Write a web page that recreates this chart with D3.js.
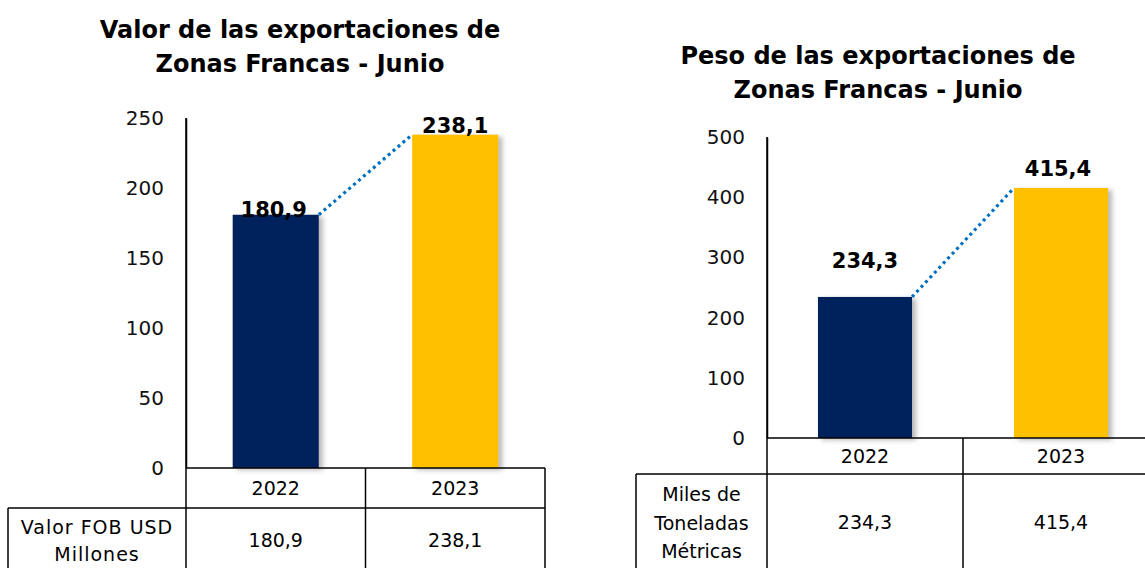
<!DOCTYPE html>
<html>
<head>
<meta charset="utf-8">
<script src="https://cdn.jsdelivr.net/npm/d3@7"></script>
<style>
  body { margin: 0; background: #fff; }
  svg { display: block; font-family: "DejaVu Sans", sans-serif; }
</style>
</head>
<body>
<svg id="chart" width="1145" height="568"></svg>
<script>
// datos
const years = ["2022", "2023"]
const valorFob = [180.9, 238.1]
const pesoTon = [234.3, 415.4]
const barColors = ["#03205c", "#ffc000"]
const valorTicks = [0, 50, 100, 150, 200, 250]
const pesoTicks = [0, 100, 200, 300, 400, 500]

const es = d3.formatLocale({decimal: ",", thousands: ".", grouping: [3], currency: ["", ""]})
const fmt = es.format(".1f")

const svg = d3.select("#chart")

const defs = svg.append("defs")
defs.append("filter").attr("id", "shadow")
    .attr("x", "-10%").attr("y", "-10%").attr("width", "130%").attr("height", "120%")
  .append("feDropShadow")
    .attr("dx", 4).attr("dy", 2).attr("stdDeviation", 2.5)
    .attr("flood-color", "#808080").attr("flood-opacity", 0.55)

function panel(cfg) {
  const g = svg.append("g")

  // título
  g.append("text")
    .attr("x", cfg.titleX).attr("y", cfg.titleY)
    .attr("text-anchor", "middle")
    .style("font-weight", "bold").style("font-size", "24px")
    .selectAll("tspan").data(cfg.title).join("tspan")
      .attr("x", cfg.titleX).attr("dy", (d, i) => i === 0 ? 0 : 34)
      .text(d => d)

  const x = d3.scaleBand().domain(years)
    .range([cfg.axisX, cfg.axisX + cfg.band * years.length])
    .paddingInner(0.52).paddingOuter(0.26)
  const y = d3.scaleLinear().domain([0, d3.max(cfg.ticks)]).range([cfg.zeroY, cfg.topY])

  // eje Y
  const axis = g.append("g")
    .attr("transform", `translate(${cfg.axisX},0)`)
    .call(d3.axisLeft(y).tickValues(cfg.ticks).tickSize(0).tickPadding(22).tickFormat(d3.format("d")))
  axis.select(".domain").attr("stroke", "#000").attr("stroke-width", 1.5)
  axis.selectAll("text")
    .style("font-family", "DejaVu Sans, sans-serif")
    .style("font-size", "20px").attr("fill", "#111")

  // barras
  g.selectAll("rect.bar").data(cfg.values).join("rect")
    .attr("class", "bar")
    .attr("x", (d, i) => x(years[i]))
    .attr("y", d => y(d))
    .attr("width", x.bandwidth())
    .attr("height", d => y(0) - y(d))
    .attr("fill", (d, i) => barColors[i])
    .attr("filter", "url(#shadow)")

  // línea punteada entre barras
  g.append("line")
    .attr("x1", x(years[0]) + x.bandwidth()).attr("y1", y(cfg.values[0]))
    .attr("x2", x(years[1])).attr("y2", y(cfg.values[1]))
    .attr("stroke", "#0070c0").attr("stroke-width", 3.2)
    .attr("stroke-dasharray", "3,3.5")

  // etiquetas de datos
  g.selectAll("text.lbl").data(cfg.values).join("text")
    .attr("class", "lbl")
    .attr("x", (d, i) => x(years[i]) + x.bandwidth() / 2 + cfg.labelDx[i])
    .attr("y", (d, i) => y(d) - cfg.labelDy[i])
    .attr("text-anchor", "middle")
    .style("font-weight", "bold").style("font-size", "21px")
    .text(d => fmt(d))

  // tabla de datos
  const right = cfg.axisX + cfg.band * years.length
  const r1 = cfg.zeroY + cfg.rowH
  const line = (x1, y1, x2, y2) => g.append("line")
    .attr("x1", x1).attr("y1", y1).attr("x2", x2).attr("y2", y2)
    .attr("stroke", "#000").attr("stroke-width", 1.5)
  line(cfg.axisX, cfg.zeroY, right, cfg.zeroY)
  line(cfg.tableLeft, r1, right, r1)
  line(cfg.axisX, cfg.topY, cfg.axisX, 568)
  line(cfg.tableLeft, r1, cfg.tableLeft, 568)
  years.forEach((yr, i) => line(cfg.axisX + cfg.band * (i + 1), cfg.zeroY, cfg.axisX + cfg.band * (i + 1), 568))

  g.selectAll("text.yr").data(years).join("text")
    .attr("class", "yr")
    .attr("x", d => x(d) + x.bandwidth() / 2)
    .attr("y", cfg.zeroY + cfg.rowH / 2 + 7)
    .attr("text-anchor", "middle").style("font-size", "19px")
    .text(d => d)

  g.selectAll("text.val").data(cfg.values).join("text")
    .attr("class", "val")
    .attr("x", (d, i) => x(years[i]) + x.bandwidth() / 2)
    .attr("y", cfg.valY)
    .attr("text-anchor", "middle").style("font-size", "19px")
    .text(d => fmt(d))

  g.append("text")
    .attr("text-anchor", "middle").style("font-size", "19px")
    .style("letter-spacing", cfg.rowSpacing)
    .selectAll("tspan").data(cfg.rowLabel).join("tspan")
      .attr("x", (cfg.tableLeft + cfg.axisX) / 2)
      .attr("y", (d, i) => cfg.rowLabelY + i * cfg.rowLabelGap)
      .text(d => d)
}

panel({
  title: ["Valor de las exportaciones de", "Zonas Francas - Junio"],
  titleX: 300, titleY: 38,
  values: valorFob, ticks: valorTicks,
  axisX: 186, band: 179.5, zeroY: 468, topY: 118,
  rowH: 40, tableLeft: 8, valY: 547,
  rowLabel: ["Valor FOB USD", "Millones"], rowLabelY: 534, rowLabelGap: 27, rowSpacing: "1px",
  labelDx: [-2, 0], labelDy: [-2, 2]
})

panel({
  title: ["Peso de las exportaciones de", "Zonas Francas - Junio"],
  titleX: 878, titleY: 64,
  values: pesoTon, ticks: pesoTicks,
  axisX: 767, band: 196, zeroY: 438, topY: 137,
  rowH: 36, tableLeft: 636, valY: 529,
  rowLabel: ["Miles de", "Toneladas", "Métricas"], rowLabelY: 501, rowLabelGap: 28.5, rowSpacing: "0px",
  labelDx: [0, -3], labelDy: [29, 12]
})
</script>
</body>
</html>
